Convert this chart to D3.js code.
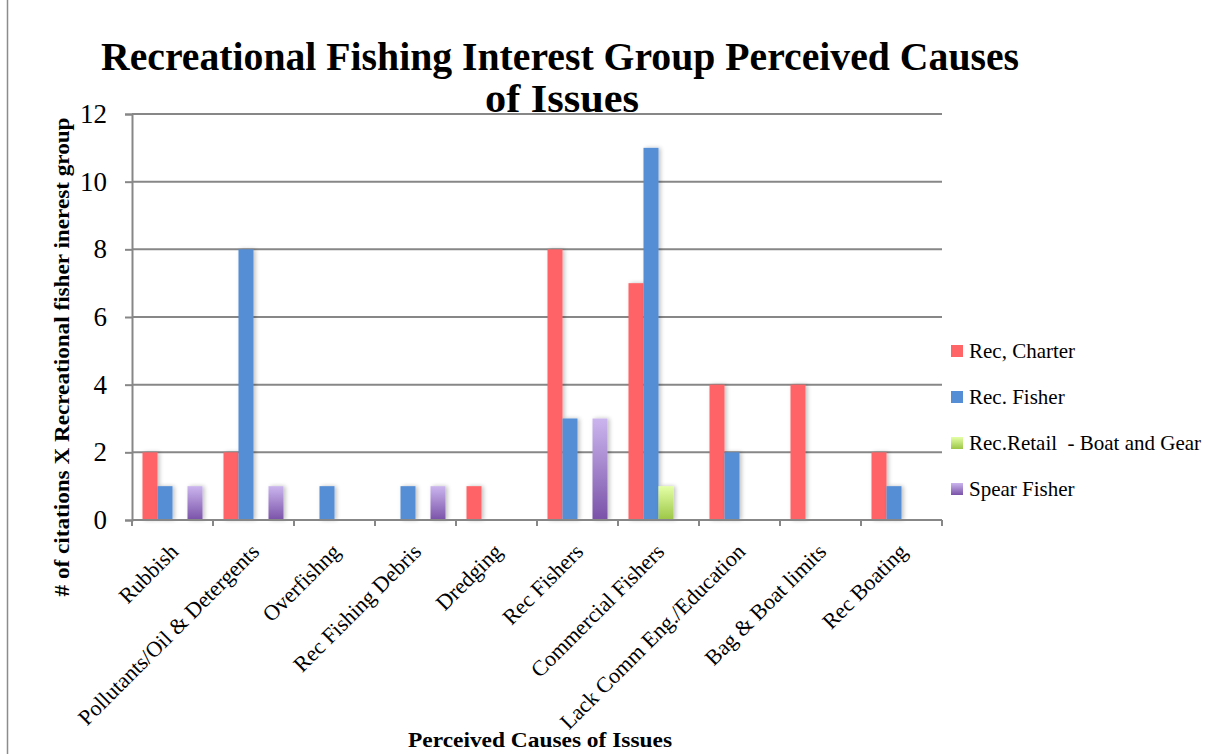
<!DOCTYPE html>
<html>
<head>
<meta charset="utf-8">
<script src="https://cdn.jsdelivr.net/npm/d3@7"></script>
<style>
  html, body { margin: 0; padding: 0; background: #fff; }
  svg { display: block; }
  text { font-family: "Liberation Serif", "DejaVu Serif", serif; fill: #000; }
</style>
</head>
<body>
<svg id="chart" width="1208" height="754"></svg>
<script>
// Perceived causes of issues, cited by each recreational fishing interest group
const categories = [
  "Rubbish", "Pollutants/Oil & Detergents", "Overfishng", "Rec Fishing Debris",
  "Dredging", "Rec Fishers", "Commercial Fishers", "Lack Comm Eng./Education",
  "Bag & Boat limits", "Rec Boating"
];
const seriesNames = ["Rec, Charter", "Rec. Fisher", "Rec.Retail  - Boat and Gear", "Spear Fisher"];
const recCharter = [2, 2, 0, 0, 1, 8, 7, 4, 4, 2];
const recFisher  = [1, 8, 1, 1, 0, 3, 11, 2, 0, 1];
const recRetail  = [0, 0, 0, 0, 0, 0, 1, 0, 0, 0];
const spearFisher = [1, 1, 0, 1, 0, 3, 0, 0, 0, 0];
const yTicks = [0, 2, 4, 6, 8, 10, 12];

const seriesValues = [recCharter, recFisher, recRetail, spearFisher];

const svg = d3.select("#chart");
const defs = svg.append("defs");

// fills: flat for the first two series, vertical gradients for the others
const grad = (id, top, bottom) => {
  const g = defs.append("linearGradient").attr("id", id)
    .attr("x1", 0).attr("y1", 0).attr("x2", 0).attr("y2", 1);
  g.append("stop").attr("offset", "0%").attr("stop-color", top);
  g.append("stop").attr("offset", "100%").attr("stop-color", bottom);
};
grad("gGreen", "#e4ffa6", "#9cc646");
grad("gPurple", "#cbb5ee", "#7a52a8");
const fills = ["#ff6467", "#558ed5", "url(#gGreen)", "url(#gPurple)"];

const shadow = defs.append("filter").attr("id", "shadow")
  .attr("x", "-30%").attr("y", "-10%").attr("width", "170%").attr("height", "120%");
shadow.append("feGaussianBlur").attr("in", "SourceAlpha").attr("stdDeviation", 2.2);
shadow.append("feOffset").attr("dx", 1.5).attr("dy", 0).attr("result", "b");
shadow.append("feComponentTransfer").append("feFuncA").attr("type", "linear").attr("slope", 0.25);
const merge = shadow.append("feMerge");
merge.append("feMergeNode");
merge.append("feMergeNode").attr("in", "SourceGraphic");

// left page border line
svg.append("line").attr("x1", 7.5).attr("x2", 7.5).attr("y1", 0).attr("y2", 754)
  .attr("stroke", "#8c8c8c").attr("stroke-width", 1.5);

const plot = { left: 132, right: 942, top: 114, bottom: 520 };

const x = d3.scaleBand().domain(categories).range([plot.left, plot.right]).paddingInner(0).paddingOuter(0);
const x1 = d3.scaleBand().domain(seriesNames).range([0, x.bandwidth()]).paddingOuter(0.7).paddingInner(0);
const y = d3.scaleLinear().domain([0, 12]).range([plot.bottom, plot.top]);

// horizontal gridlines
svg.append("g").selectAll("line").data(yTicks).join("line")
  .attr("x1", plot.left).attr("x2", plot.right)
  .attr("y1", d => y(d)).attr("y2", d => y(d))
  .attr("stroke", "#878787").attr("stroke-width", 2);

// y axis
const yAxis = svg.append("g").attr("transform", `translate(${plot.left},0)`)
  .call(d3.axisLeft(y).tickValues(yTicks).tickSize(7).tickPadding(18));
yAxis.select(".domain").attr("stroke", "#878787").attr("stroke-width", 2);
yAxis.selectAll(".tick line").attr("stroke", "#878787").attr("stroke-width", 2);
yAxis.selectAll(".tick text").attr("font-size", 27).attr("font-family", "Liberation Serif, serif");

// bars
const groups = svg.append("g").selectAll("g").data(categories).join("g")
  .attr("transform", d => `translate(${x(d)},0)`);
groups.selectAll("rect")
  .data((c, i) => seriesValues.map((vals, s) => ({ s, v: vals[i] })).filter(d => d.v > 0))
  .join("rect")
  .attr("x", d => x1(seriesNames[d.s]))
  .attr("width", x1.bandwidth())
  .attr("y", d => y(d.v))
  .attr("height", d => y(0) - y(d.v))
  .attr("fill", d => fills[d.s])
  .attr("filter", "url(#shadow)");

// x axis with tick marks at band boundaries
svg.append("line").attr("x1", plot.left).attr("x2", plot.right)
  .attr("y1", plot.bottom).attr("y2", plot.bottom)
  .attr("stroke", "#878787").attr("stroke-width", 2);
const bounds = categories.map(c => x(c)).concat([plot.right]);
svg.append("g").selectAll("line").data(bounds).join("line")
  .attr("x1", d => d).attr("x2", d => d)
  .attr("y1", plot.bottom).attr("y2", plot.bottom + 6)
  .attr("stroke", "#878787").attr("stroke-width", 2);

// rotated category labels
svg.append("g").selectAll("text").data(categories).join("text")
  .attr("transform", d => `translate(${x(d) + x.bandwidth() / 2 + 7},${plot.bottom + 33}) rotate(-45)`)
  .attr("text-anchor", "end")
  .attr("font-size", 22)
  .text(d => d);

// axis titles
svg.append("text")
  .attr("transform", `translate(69,357) rotate(-90)`)
  .attr("text-anchor", "middle").attr("font-size", 21).attr("font-weight", "bold")
  .attr("textLength", 479).attr("lengthAdjust", "spacingAndGlyphs")
  .text("# of citations X Recreational fisher inerest group");

svg.append("text")
  .attr("x", 540).attr("y", 747).attr("text-anchor", "middle")
  .attr("font-size", 21).attr("font-weight", "bold")
  .attr("textLength", 264).attr("lengthAdjust", "spacingAndGlyphs")
  .text("Perceived Causes of Issues");

// chart title
svg.append("text")
  .attr("x", 560).attr("y", 70).attr("text-anchor", "middle")
  .attr("font-size", 40).attr("font-weight", "bold")
  .attr("textLength", 918).attr("lengthAdjust", "spacingAndGlyphs")
  .text("Recreational Fishing Interest Group Perceived Causes");
svg.append("text")
  .attr("x", 562).attr("y", 112).attr("text-anchor", "middle")
  .attr("font-size", 40).attr("font-weight", "bold")
  .attr("textLength", 154).attr("lengthAdjust", "spacingAndGlyphs")
  .text("of Issues");

// legend
const legend = svg.append("g").selectAll("g").data(seriesNames).join("g")
  .attr("transform", (d, i) => `translate(951,${351 + i * 46})`);
legend.append("rect").attr("x", 0).attr("y", -6).attr("width", 12).attr("height", 12)
  .attr("fill", (d, i) => fills[i]);
legend.append("text").attr("x", 18).attr("y", 7).attr("font-size", 21)
  .attr("xml:space", "preserve").style("white-space", "pre")
  .text(d => d);
</script>
</body>
</html>
